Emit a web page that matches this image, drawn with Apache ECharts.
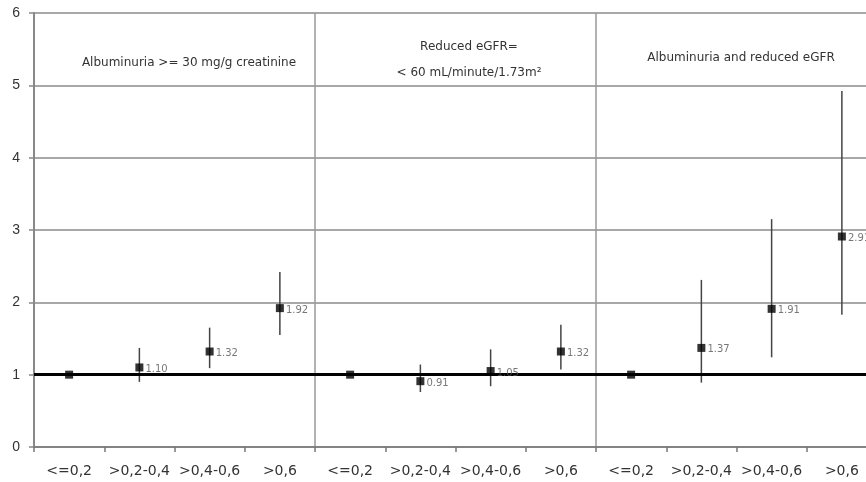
<!DOCTYPE html>
<html>
<head>
<meta charset="utf-8">
<script src="https://cdn.jsdelivr.net/npm/echarts@6/dist/echarts.min.js"></script>
<style>
html,body{margin:0;padding:0;background:#fff;overflow:hidden;}
#c{width:878px;height:482px;}
</style>
</head>
<body>
<div id="c"></div>
<script>
// ---- data ----
var categories = ['<=0,2','>0,2-0,4','>0,4-0,6','>0,6',
                  '<=0,2','>0,2-0,4','>0,4-0,6','>0,6',
                  '<=0,2','>0,2-0,4','>0,4-0,6','>0,6'];
var estimates = [1.00, 1.10, 1.32, 1.92,
                 1.00, 0.91, 1.05, 1.32,
                 1.00, 1.37, 1.91, 2.91];
var lowerCI   = [null, 0.90, 1.09, 1.55,
                 null, 0.76, 0.84, 1.07,
                 null, 0.89, 1.24, 1.83];
var upperCI   = [null, 1.37, 1.65, 2.42,
                 null, 1.14, 1.35, 1.69,
                 null, 2.31, 3.15, 4.92];
var pointLabels = ['', '1.10', '1.32', '1.92',
                   '', '0.91', '1.05', '1.32',
                   '', '1.37', '1.91', '2.91'];
var panelTitles = ['Albuminuria >= 30 mg/g creatinine',
                   'Reduced eGFR=\n< 60 mL/minute/1.73m²',
                   'Albuminuria and reduced eGFR'];
var yTicks = [0, 1, 2, 3, 4, 5, 6];
var referenceValue = 1;

// ---- build ----
var FONT = '"Liberation Sans", Arial, sans-serif';
var WIDE = '"DejaVu Sans", sans-serif';
var chart = echarts.init(document.getElementById('c'));

var ciData = [];
for (var i = 0; i < categories.length; i++) {
  if (lowerCI[i] != null) ciData.push([i, lowerCI[i], upperCI[i]]);
}
var ptData = estimates.map(function (v, i) { return { value: [i, v], label: { show: pointLabels[i] !== '', formatter: pointLabels[i] } }; });

var titleStyle = { fontFamily: WIDE, fontSize: 12, fontWeight: 'normal', color: '#333' };
chart.setOption({
  animation: false,
  backgroundColor: '#fff',
  textStyle: { fontFamily: FONT },
  title: [
    { text: panelTitles[0], left: 184, top: 52, textAlign: 'center', textStyle: titleStyle },
    { text: panelTitles[1], left: 464, top: 29, textAlign: 'center',
      textStyle: Object.assign({}, titleStyle, { lineHeight: 26 }) },
    { text: panelTitles[2], left: 736, top: 47, textAlign: 'center', textStyle: titleStyle }
  ],
  grid: { left: 34, top: 13, right: 1, bottom: 35, containLabel: false },
  xAxis: {
    type: 'category',
    data: categories,
    boundaryGap: true,
    axisLine: { show: true, lineStyle: { color: '#777', width: 1.5 } },
    axisTick: { show: true, length: 5, interval: 0, lineStyle: { color: '#777', width: 1.5 } },
    axisLabel: { interval: 0, margin: 17, fontSize: 14, color: '#333', fontFamily: WIDE },
    splitLine: { show: true, interval: function (idx) { return idx % 4 === 0; },
                 lineStyle: { color: '#999', width: 1.5 } }
  },
  yAxis: {
    type: 'value',
    min: yTicks[0], max: yTicks[yTicks.length - 1], interval: 1,
    axisLine: { show: true, lineStyle: { color: '#888', width: 2 } },
    axisTick: { show: true, length: 5, lineStyle: { color: '#888', width: 1.5 } },
    axisLabel: { fontSize: 14, color: '#333', margin: 14, fontFamily: FONT },
    splitLine: { show: true, lineStyle: { color: '#a8a8a8', width: 2 } }
  },
  series: [
    {
      type: 'custom',
      data: ciData,
      z: 3,
      renderItem: function (params, api) {
        var p1 = api.coord([api.value(0), api.value(1)]);
        var p2 = api.coord([api.value(0), api.value(2)]);
        return { type: 'line', shape: { x1: p1[0], y1: p1[1], x2: p2[0], y2: p2[1] },
                 style: { stroke: '#444', lineWidth: 1.5 } };
      },
      encode: { x: 0, y: [1, 2] }
    },
    {
      type: 'scatter',
      data: ptData,
      z: 5,
      symbol: 'rect',
      symbolSize: 8,
      itemStyle: { color: '#000' },
      label: { position: 'right', distance: 2, offset: [0, 2], fontSize: 10, color: '#555', fontFamily: WIDE },
      markLine: {
        silent: true, symbol: 'none', z: 4,
        label: { show: false },
        lineStyle: { color: '#000', width: 3, type: 'solid' },
        data: [{ yAxis: referenceValue }]
      }
    }
  ]
});
</script>
</body>
</html>
